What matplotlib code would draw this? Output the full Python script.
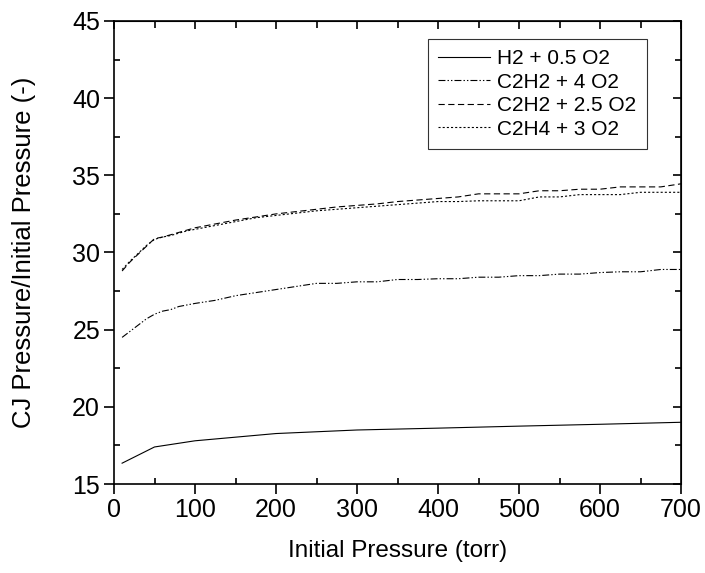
"""CJ pressure ratio vs initial pressure
"""
import matplotlib
matplotlib.use("Agg")
import matplotlib.pyplot as plt
from matplotlib.ticker import MultipleLocator

plt.rcParams["font.family"] = ["Liberation Sans", "DejaVu Sans"]
plt.rcParams["lines.scale_dashes"] = False

# data
h2_p0 = [10, 50, 100, 200, 300, 400, 500, 600, 700]
h2_ratio = [16.35, 17.4, 17.8, 18.27, 18.5, 18.62, 18.75, 18.87, 19.0]

p0 = [10, 20, 30, 40, 50, 60, 70, 80, 90, 100, 125, 150, 175, 200, 225, 250,
      275, 300, 325, 350, 375, 400, 425, 450, 475, 500, 525, 550, 575, 600,
      625, 650, 675, 700]
c2h2_4o2 = [24.5, 24.9, 25.3, 25.7, 26.0, 26.2, 26.3, 26.5, 26.6, 26.7, 26.9,
            27.2, 27.4, 27.6, 27.8, 28.0, 28.0, 28.1, 28.1, 28.25, 28.25, 28.3,
            28.3, 28.4, 28.4, 28.5, 28.5, 28.6, 28.6, 28.7, 28.75, 28.75, 28.9, 28.9]
c2h2_25o2 = [28.8, 29.4, 29.9, 30.4, 30.9, 31.0, 31.15, 31.3, 31.45, 31.6, 31.85,
             32.1, 32.3, 32.5, 32.65, 32.8, 32.95, 33.05, 33.15, 33.3, 33.4, 33.5,
             33.6, 33.8, 33.8, 33.8, 34.0, 34.0, 34.1, 34.1, 34.25, 34.25, 34.25, 34.45]
c2h4_3o2 = [28.9, 29.45, 29.95, 30.45, 30.85, 31.0, 31.1, 31.25, 31.4, 31.5, 31.75,
            32.0, 32.25, 32.4, 32.55, 32.7, 32.8, 32.9, 33.0, 33.1, 33.2, 33.3,
            33.3, 33.35, 33.35, 33.35, 33.6, 33.6, 33.75, 33.75, 33.75, 33.9, 33.9, 33.9]

LINE_KWARGS = dict(color="black", linewidth=0.8)

fig = plt.figure(figsize=(7.05, 5.73), dpi=100)
ax = fig.add_axes([0.1617, 0.1553, 0.966 - 0.1617, 0.9634 - 0.1553])

ax.plot(h2_p0, h2_ratio, "-", label="H2 + 0.5 O2", **LINE_KWARGS)
ax.plot(p0, c2h2_4o2, linestyle=(0, (5, 1.5, 1, 1.5, 1, 1.5)), label="C2H2 + 4 O2", **LINE_KWARGS)
ax.plot(p0, c2h2_25o2, linestyle=(0, (4.5, 2.5)), label="C2H2 + 2.5 O2", **LINE_KWARGS)
ax.plot(p0, c2h4_3o2, linestyle=(0, (1.5, 1.5)), label="C2H4 + 3 O2", **LINE_KWARGS)

ax.set_xlim(0, 700)
ax.set_ylim(15, 45)
ax.xaxis.set(major_locator=MultipleLocator(100), minor_locator=MultipleLocator(50))
ax.yaxis.set(major_locator=MultipleLocator(5), minor_locator=MultipleLocator(2.5))
ax.tick_params(which="major", direction="out", length=7, width=1.2, labelsize=18, pad=3)
ax.tick_params(which="minor", direction="in", length=4, width=1.2)
for s in ax.spines.values():
    s.set_linewidth(1.2)

# inward ticks on the top and right
top = ax.secondary_xaxis("top")
top.xaxis.set(major_locator=MultipleLocator(100), minor_locator=MultipleLocator(50))
top.tick_params(which="both", direction="in", labeltop=False, width=1.2)
top.tick_params(which="major", length=6)
top.tick_params(which="minor", length=5)
right = ax.secondary_yaxis("right")
right.yaxis.set(major_locator=MultipleLocator(5), minor_locator=MultipleLocator(2.5))
right.tick_params(which="both", direction="in", labelright=False, width=1.2)
right.tick_params(which="major", length=6)
right.tick_params(which="minor", length=4.5)

ax.set_xlabel("Initial Pressure (torr)", fontsize=17.5, labelpad=13)
ax.set_ylabel("CJ Pressure/Initial Pressure (-)", fontsize=18.5, labelpad=26)

leg = ax.legend(loc="upper right", bbox_to_anchor=(0.94, 0.962), fontsize=15,
    frameon=True, fancybox=False, edgecolor="black", handlelength=2.5,
    handletextpad=0.35, labelspacing=0.22, borderpad=0.5, borderaxespad=0)
leg.get_frame().set_linewidth(0.8)

plt.savefig("out.png", dpi=100)
plt.close()
